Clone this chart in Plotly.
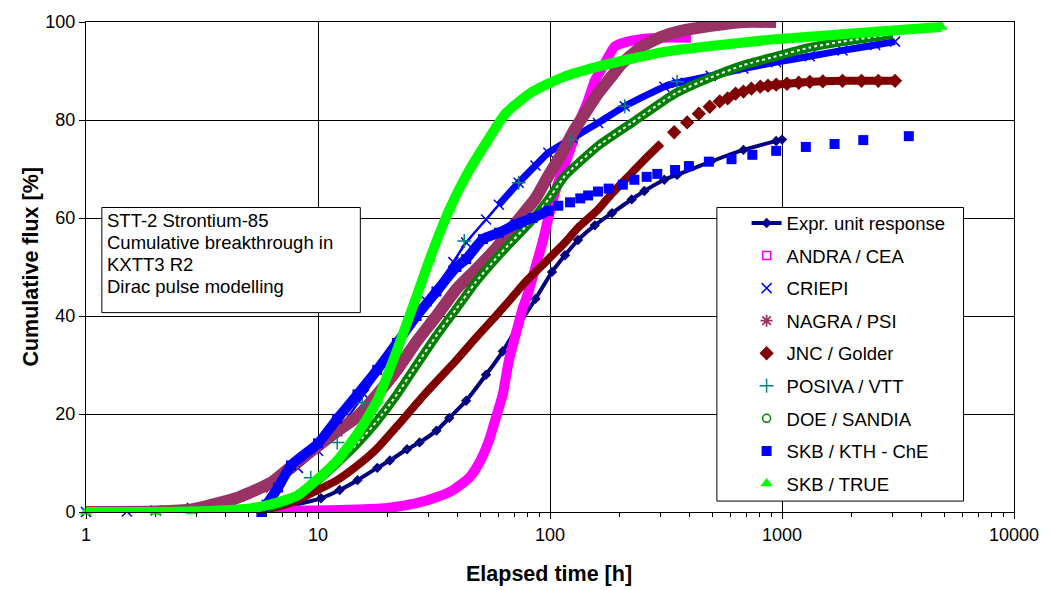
import plotly.graph_objects as go

# ---------------- data ----------------
expr_t = [1, 3, 5, 6.5, 8, 10.3, 12.4, 14.8, 18, 20.4, 24.2, 27.4, 32.4, 36.8, 43.5, 53, 62.6, 73.3,
          86.6, 102, 116, 132, 156, 185, 225, 255, 311, 353, 493, 682, 944, 1000]
expr_v = [0, 0, 0, 0.4, 1.5, 2.8, 4.5, 6.5, 9, 10.5, 12.8, 14.2, 16.6, 19.2, 22.7, 28, 32.8, 38.2,
          43.5, 49, 52.4, 55.5, 58.5, 61, 63.8, 65.5, 67.8, 68.8, 71.5, 73.9, 75.7, 76]

andra_t = [1, 2, 5, 10, 15, 19.8, 26.6, 32.4, 38.3, 44.9, 49.5, 54.6, 58.4, 62.6, 66.4, 71.1, 76.2,
           80.9, 86.6, 92.8, 98.4, 105, 116, 125, 132, 146, 156, 172, 190, 216, 255, 302, 405]
andra_v = [0.2, 0.2, 0.2, 0.3, 0.5, 0.8, 1.8, 3, 4.5, 7, 10, 14.6, 19.2, 24, 30.8, 36.2, 41.5,
           45, 50, 55, 60, 65.2, 71, 75.3, 79, 84, 88, 91.5, 95, 96, 96.6, 96.8, 96.8]

criepi_t = [1, 1.5, 2, 2.86, 4.24, 6.28, 8.19, 10, 12.1, 15.8, 21.9, 29.4, 38.3, 43.5, 53, 60.2,
            73.3, 86.6, 98.4, 125, 161, 210, 311, 353, 493, 682, 944, 1318, 1823, 2522, 3070]
criepi_v = [0, 0.1, 0.3, 0.8, 2.2, 5, 9, 12.5, 16.5, 24, 34, 43, 51, 55, 59.7, 62.7,
            67.2, 70.7, 73.3, 76.3, 79.4, 82.8, 86.8, 87.6, 89, 90.5, 91.8, 93, 94.2, 95.3, 96]

nagra_t = [1, 2, 2.86, 4.54, 6.28, 8, 10, 12.1, 14.8, 18, 21.9, 26.6, 32.4, 39.5, 48, 59, 71.1,
           86.6, 98.4, 112, 125, 140, 161, 185, 204, 248, 302, 353, 493, 682, 944]
nagra_v = [0, 0.1, 0.5, 3, 6, 10, 13.5, 16.5, 19.5, 24, 29, 34.8, 40, 45.5, 49.5, 54, 59,
           64, 68.6, 73, 77.3, 81, 85.4, 89, 91.5, 94.9, 97, 98, 99.2, 100, 100]

jnc_band_t = [1, 3, 5.53, 7.21, 8.19, 10, 12.1, 14.8, 18, 21.9, 28.8, 39.5, 48, 58.4, 66.4, 78.5,
              95.5, 116, 132, 161, 185, 225, 255, 302]
jnc_band_v = [0, 0, 0.3, 1.5, 2.5, 4.5, 6.5, 9.5, 13, 17.5, 24, 31, 35.6, 40, 43, 47,
              51, 55, 58, 61.7, 65, 69.2, 71.9, 75.3]
jnc_pts_t = [343, 390, 438, 488, 539, 583, 631, 682, 738, 806, 870, 944, 1050, 1180, 1318, 1500,
             1823, 2200, 2600, 3070]
jnc_pts_v = [77.5, 79.5, 81.3, 82.7, 83.8, 84.4, 85.4, 85.8, 86.4, 86.8, 87, 87.2, 87.4, 87.6,
             87.8, 87.9, 88, 88, 88, 88]

posiva_t = [9.31, 12.1, 15.5, 42.7, 73.3, 122, 210, 353]
posiva_v = [7, 14.2, 22.3, 55.3, 67.2, 76, 82.8, 87.8]

doe_t = [1, 3, 5.5, 7.2, 8.2, 10, 12.1, 14.8, 18, 21.9, 26.6, 32.4, 39.5, 48, 60.2, 84.1, 98.4,
         116, 161, 225, 311, 353, 493, 682, 944, 1318, 1823, 3000]
doe_v = [0, 0.1, 0.5, 2, 3.5, 6.5, 10, 14, 18.6, 24, 30, 36, 41.5, 47, 52.4, 59.7, 63.8,
         68.6, 74.7, 79.4, 84, 85.6, 88.7, 91.2, 93, 94.8, 96, 97.5]

kth_t = [5.7, 6.0, 6.73, 7.65, 10, 12.1, 14.8, 18, 21.9, 26.6, 32.4, 39.5, 43.5, 51.4, 60.2, 71.1,
         84.1, 98.4, 108.6, 122, 135, 146, 161, 179, 206, 231, 261, 290, 346, 397, 484, 606, 745,
         944, 1267, 1685, 2240, 3520]
kth_v = [0, 1.5, 5, 9.5, 14, 19, 24, 29, 34.5, 40, 45, 50, 51.6, 55.7, 57, 58.7,
         60, 61.5, 62.5, 63.2, 64, 64.6, 65.4, 66, 66.8, 67.8, 68.4, 69, 69.8, 70.6, 71.5, 72, 72.9,
         73.7, 74.5, 75.1, 75.9, 76.7]

true_t = [1, 2, 2.86, 4.54, 5.53, 6.73, 8.19, 10, 12.1, 14.8, 18, 21.9, 26.6, 30.3, 36.8, 43.5, 53,
          64.5, 84.1, 116, 161, 225, 311, 493, 944, 2522, 4870]
true_v = [0, 0, 0.1, 0.5, 1, 2, 3.4, 6.8, 10.5, 16, 22.7, 33, 44, 51.6, 61.7, 68.6, 75.3,
          81.4, 85.8, 88.9, 90.9, 92.5, 93.9, 95.1, 96.5, 98, 99]

x_ticks = [1, 10, 100, 1000, 10000]
x_tick_labels = ["1", "10", "100", "1000", "10000"]
y_ticks = [0, 20, 40, 60, 80, 100]
box_lines = ["STT-2 Strontium-85", "Cumulative breakthrough in", "KXTT3 R2", "Dirac pulse modelling"]

# ---------------- figure ----------------
FONT = "Arial, Liberation Sans, sans-serif"
L, R, T, B = 86, 1023, 18, 512
PW, PH = R - L, B - T


def px(x):
    return (x - L) / PW


def py(y):
    return (B - y) / PH


fig = go.Figure()


def band(t, v, color, width, group, dash=None):
    fig.add_trace(go.Scatter(x=t, y=v, mode="lines", legendgroup=group, showlegend=False,
                             line=dict(color=color, width=width, shape="spline", smoothing=0.5,
                                       dash=dash), hoverinfo="skip"))


def marks(t, v, name, symbol, color, size, lw=1.5):
    fig.add_trace(go.Scatter(x=t, y=v, mode="markers", name=name, legendgroup=name,
                             cliponaxis=False,
                             marker=dict(symbol=symbol, size=size, color=color,
                                         line=dict(color=color, width=lw))))


def legend_only(name, symbol, color, size, lw=1.5):
    fig.add_trace(go.Scatter(x=[None], y=[None], mode="markers", name=name, legendgroup=name,
                             marker=dict(symbol=symbol, size=size, color=color,
                                         line=dict(color=color, width=lw))))


# Expr. unit response
fig.add_trace(go.Scatter(x=expr_t, y=expr_v, mode="lines+markers", name="Expr. unit response",
                         legendgroup="Expr. unit response",
                         line=dict(color="#000080", width=4, shape="spline", smoothing=0.5),
                         marker=dict(symbol="diamond", size=8, color="#000080")))

# ANDRA / CEA
band(andra_t, andra_v, "#FF00FF", 10, "ANDRA / CEA")
legend_only("ANDRA / CEA", "square-open", "#FF00FF", 8)

# CRIEPI
band(criepi_t, criepi_v, "#0000FF", 2.5, "CRIEPI")
band(criepi_t[15:], criepi_v[15:], "#0000FF", 7, "CRIEPI")
marks(criepi_t, criepi_v, "CRIEPI", "x-thin-open", "#0000FF", 10, lw=1.5)

# NAGRA / PSI
band(nagra_t, nagra_v, "#993366", 12, "NAGRA / PSI")
legend_only("NAGRA / PSI", "asterisk-open", "#993366", 10, lw=1.8)

# JNC / Golder
band(jnc_band_t, jnc_band_v, "#800000", 8, "JNC / Golder")
band(jnc_pts_t[9:], jnc_pts_v[9:], "#800000", 8, "JNC / Golder")
marks(jnc_pts_t, jnc_pts_v, "JNC / Golder", "diamond", "#800000", 11, lw=0)

# POSIVA / VTT
marks(posiva_t, posiva_v, "POSIVA / VTT", "cross-thin-open", "#008080", 10, lw=1.5)

# DOE / SANDIA
band(doe_t, doe_v, "#008000", 9, "DOE / SANDIA")
band(doe_t, doe_v, "white", 2, "DOE / SANDIA", dash="dot")
legend_only("DOE / SANDIA", "circle-open", "#008000", 8)

# SKB / KTH - ChE
band(kth_t[:18], kth_v[:18], "#0000FF", 10, "SKB / KTH - ChE")
marks(kth_t, kth_v, "SKB / KTH - ChE", "square", "#0000FF", 10, lw=0)

# SKB / TRUE
band(true_t, true_v, "#00FF00", 10, "SKB / TRUE")
marks(true_t, true_v, "SKB / TRUE", "triangle-up", "#00FF00", 11, lw=0)

# text box and legend box
shapes = [
    dict(type="rect", xref="paper", yref="paper", x0=px(102), x1=px(363), y0=py(311), y1=py(205),
         line=dict(color="black", width=1), fillcolor="white", layer="above"),
    dict(type="rect", xref="paper", yref="paper", x0=px(723), x1=px(972), y0=py(501), y1=py(205),
         line=dict(color="black", width=1), fillcolor="white", layer="above"),
]

annotations = []
for i, txt in enumerate(box_lines):
    annotations.append(dict(text=txt, xref="paper", yref="paper", x=px(105), y=py(218 + 22.3 * i),
                            xanchor="left", yanchor="middle", showarrow=False,
                            font=dict(family=FONT, size=18.5, color="black")))
annotations.append(dict(text="<b>Elapsed time [h]</b>", xref="paper", yref="paper", x=px(553),
                        y=py(575), xanchor="center", yanchor="middle", showarrow=False,
                        font=dict(family=FONT, size=21.5, color="black")))
annotations.append(dict(text="<b>Cumulative flux [%]</b>", xref="paper", yref="paper", x=px(30),
                        y=py(265), xanchor="center", yanchor="middle", showarrow=False,
                        textangle=-90, font=dict(family=FONT, size=21.5, color="black")))

minor_vals = [m * 10 ** d for d in range(4) for m in range(2, 10)]

fig.update_layout(
    width=1051, height=590,
    margin=dict(l=L, r=1051 - R, t=T, b=590 - B),
    paper_bgcolor="white", plot_bgcolor="white",
    font=dict(family=FONT, size=18, color="black"),
    shapes=shapes, annotations=annotations,
    showlegend=True,
    legend=dict(x=px(753), y=py(202), xanchor="left", yanchor="top",
                bgcolor="rgba(0,0,0,0)", borderwidth=0, tracegroupgap=5.5,
                traceorder="grouped", font=dict(family=FONT, size=18.5, color="black"),
                itemsizing="trace"),
    xaxis=dict(type="log", range=[0, 4], tickvals=x_ticks, ticktext=x_tick_labels,
               ticks="outside", ticklen=6, tickcolor="black", showgrid=True, gridcolor="black",
               gridwidth=1, showline=True, linecolor="black", linewidth=1, mirror=True,
               zeroline=False, tickfont=dict(size=18),
               minor=dict(tickvals=minor_vals, ticks="outside", ticklen=4, tickcolor="black",
                          showgrid=False)),
    yaxis=dict(range=[0, 100], tickvals=y_ticks, ticks="outside", ticklen=6, tickcolor="black",
               showgrid=True, gridcolor="black", gridwidth=1, showline=True, linecolor="black",
               linewidth=1, mirror=True, zeroline=False, tickfont=dict(size=18)),
)

fig.write_html("out.html", config={"displayModeBar": False})
